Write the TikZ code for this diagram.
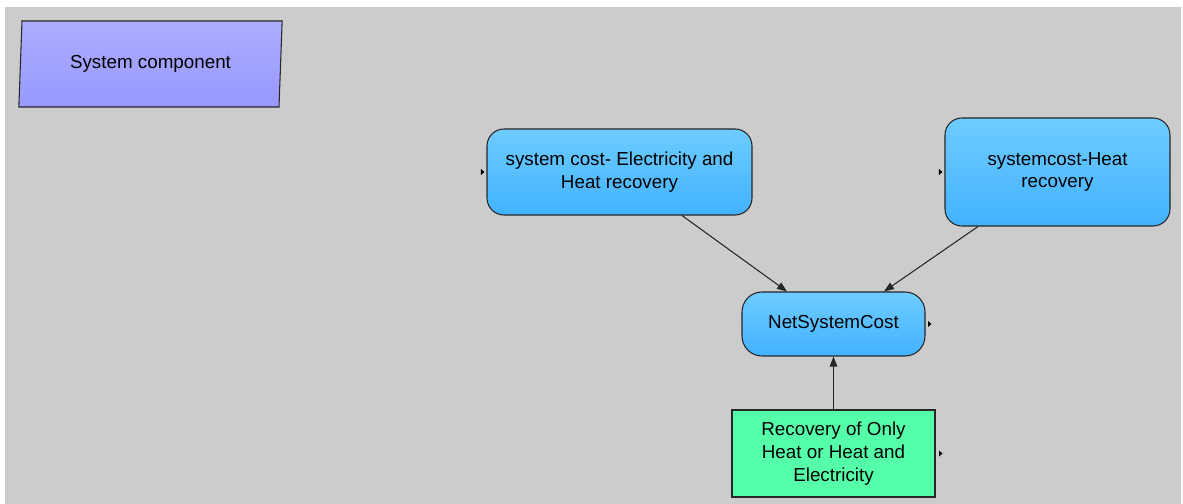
\documentclass[tikz,border=0pt]{standalone}
\usepackage{fontspec}
\setmainfont{Liberation Sans}
\usetikzlibrary{arrows.meta,shapes.geometric}

\definecolor{canvas}{HTML}{CCCCCC}
\definecolor{varTop}{HTML}{6ECCFF}
\definecolor{varBot}{HTML}{42B2FF}
\definecolor{chanceFill}{HTML}{55FFAA}
\definecolor{moduleTop}{HTML}{ADADFF}
\definecolor{moduleBot}{HTML}{9898FF}
\definecolor{edge}{HTML}{262626}

\tikzset{
    varnode/.style={draw=edge, line width=0.6pt, rounded corners=0.34cm, top color=varTop, bottom color=varBot, align=center, inner sep=0pt},
    inputnode/.style={draw=edge, line width=0.6pt, fill=chanceFill, align=center, inner sep=0pt},
    link/.style={draw=edge, line width=0.6pt, -{Triangle[length=0.2cm, width=0.15cm]}},
    flag/.style={fill=black}
}

\begin{document}
\begin{tikzpicture}[font=\fontsize{10.7}{13}\selectfont]
    \useasboundingbox (0, 0) rectangle (23.66, -10.08);

    % Grey canvas of the diagram window
    \fill[canvas] (0.1, -0.14) rectangle (23.62, -10.08);

    % Module:
    \node[draw=edge, line width=0.6pt, trapezium, trapezium left angle=83.4, trapezium right angle=96.6, trapezium stretches=true, minimum width=5.3cm, minimum height=1.72cm, top color=moduleTop, bottom color=moduleBot, inner sep=0pt] (Component) at (3.01, -1.28) {System component};

    % Variables
    \node[varnode, minimum width=5.3cm, minimum height=1.72cm] (ElecHeat) at (12.39, -3.44) {system cost- Electricity and\\Heat recovery};
    \node[varnode, minimum width=4.5cm, minimum height=2.16cm] (HeatOnly) at (21.15, -3.44) {systemcost-Heat\\recovery};
    \node[varnode, rounded corners=0.4cm, minimum width=3.66cm, minimum height=1.28cm] (NetCost) at (16.67, -6.48) {NetSystemCost};

    % Choice input
    \node[inputnode, minimum width=4.06cm, minimum height=1.74cm] (Recovery) at (16.67, -9.07) {Recovery of Only\\Heat or Heat and\\Electricity};

    % Small flags beside the nodes
    \fill[flag] ([xshift=-0.04cm]ElecHeat.west) -- ++(-0.07, 0.06) -- ++(0, -0.12) -- cycle;
    \fill[flag] ([xshift=-0.04cm]HeatOnly.west) -- ++(-0.07, 0.06) -- ++(0, -0.12) -- cycle;
    \fill[flag] ([xshift=0.12cm]NetCost.east) -- ++(-0.07, 0.06) -- ++(0, -0.12) -- cycle;
    \fill[flag] ([xshift=0.14cm]Recovery.east) -- ++(-0.07, 0.06) -- ++(0, -0.12) -- cycle;

    % Connections
    \draw[link] ([xshift=1.25cm]ElecHeat.south) -- ([xshift=-0.93cm]NetCost.north);
    \draw[link] ([xshift=-1.59cm]HeatOnly.south) -- ([xshift=1.01cm]NetCost.north);
    \draw[link] (Recovery.north) -- (NetCost.south);

\end{tikzpicture}
\end{document}
